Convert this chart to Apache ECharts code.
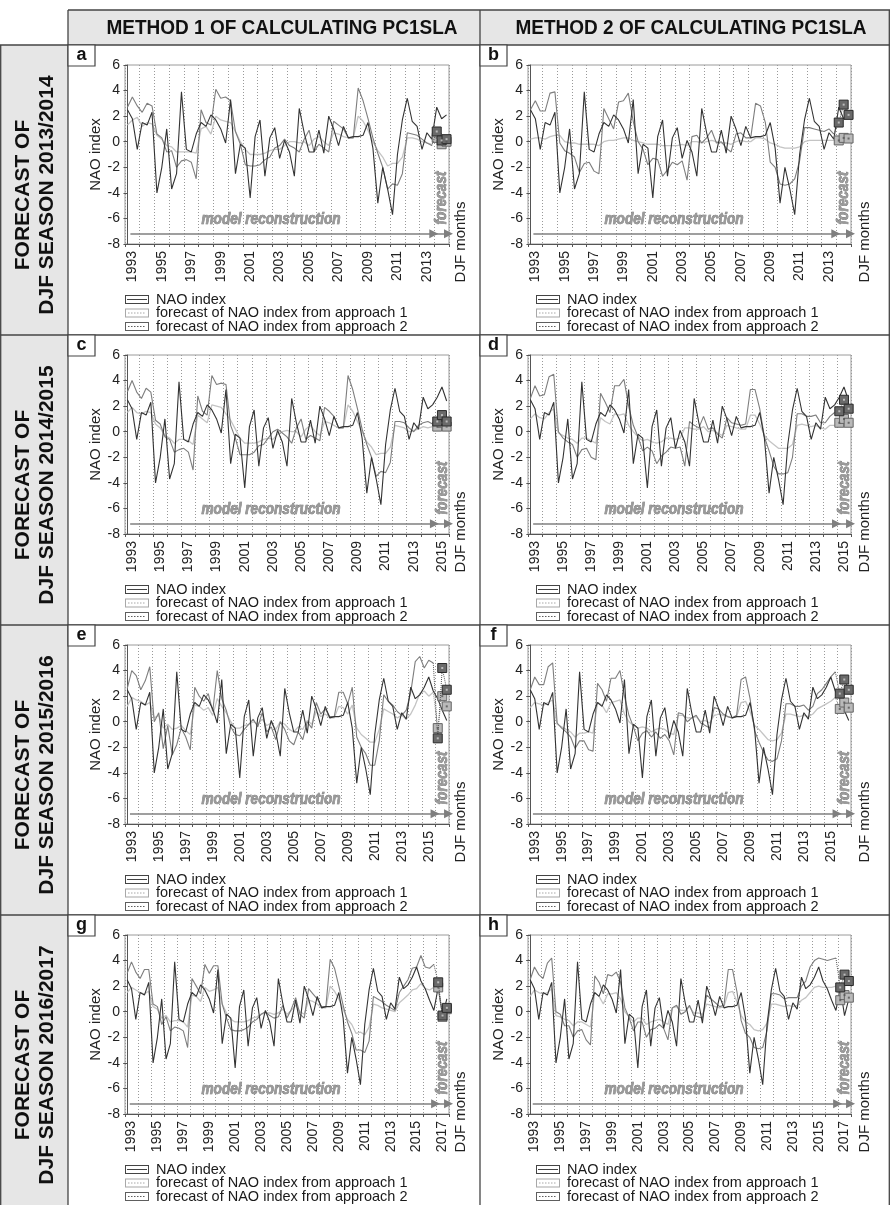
<!DOCTYPE html>
<html><head><meta charset="utf-8">
<script src="https://cdn.jsdelivr.net/npm/echarts@6/dist/echarts.min.js"></script>
<style>html,body{margin:0;padding:0;background:#fff}#c{width:890px;height:1205px}</style>
</head><body><div id="c"></div><script>
// ---------------- DATA ----------------
const FIRST_YEAR = 1993;
const HEADERS = ['METHOD 1 OF CALCULATING PC1SLA', 'METHOD 2 OF CALCULATING PC1SLA'];
const ROW_LABELS = ['DJF SEASON 2013/2014', 'DJF SEASON 2014/2015', 'DJF SEASON 2015/2016', 'DJF SEASON 2016/2017'];
const LEGEND_NAMES = ['NAO index', 'forecast of NAO index from approach 1', 'forecast of NAO index from approach 2'];

// observed monthly NAO index, DJF months, seasons 1993 ... 2017
const NAO_INDEX = [2.5,1.8,-0.6, 1.5,1.3,2.3, -4.0,-2.0,1.0, -3.7,-2.5,3.9, -0.6,-0.8,0.6, 1.5,1.2,2.1,
  1.7,1.0,-0.1, 3.3,-2.5,-0.2, -0.5,-4.4,0.4, 1.7,-2.7,0.3, 1.1,-1.3,0.1, -0.8,-2.7,2.6, 0.7,-0.8,-0.8,
  0.9,-0.9,2.0, 1.0,-0.3,1.2, 0.3,0.4,0.4, 0.5,1.5,-0.5, -4.8,-2.0,-3.7, -5.7,-1.0,1.7, 3.4,1.6,1.2,
  -0.6,0.7,0.2, 2.7,1.8,2.1, 2.7,3.5,2.4, 1.8,0.9,0.1, 1.9,-0.3,1.0];

// panel a
const A_AP1 = [1.3,1.7,1.9, 1.2,1.5,1.4, 0.5,0.2,-0.3, -0.4,-0.8,-0.8, -0.8,-0.8,-0.9, 1.0,1.2,0.6, 2.0,1.7,1.6,
  1.5,0.8,0.0, -0.6,-1.0,-1.0, -1.0,-0.9,-0.7, -0.6,-0.6,-0.3, 0.0,0.0,-0.1, 0.0,-0.3,0.2,
  0.4,0.0,-0.3, 0.7,0.6,0.4, 0.3,0.3,2.0, 1.6,0.9,0.0, -0.7,-1.2,-1.9, -1.7,-1.7,-1.2, 0.3,0.3,0.2, 0.0,-0.1,-0.2];
const A_AP2 = [2.7,3.5,2.8, 2.3,3.0,2.8, 0.6,0.3,-0.8, -0.7,-2.0,-1.5, -1.4,-1.6,-2.9, 2.5,1.5,1.3, 4.1,3.4,3.5,
  3.2,0.8,-0.2, -1.8,-1.9,-1.9, -1.8,-1.4,-1.2, -0.5,-0.3,0.2, -0.3,-0.5,-0.8, 0.2,0.9,-0.8,
  -0.2,-0.5,-0.8, 1.6,1.3,1.0, 0.3,0.3,4.2, 3.2,1.8,0.3, -0.9,-2.0,-3.7, -3.3,-3.4,-2.5, 0.7,0.6,0.5, 0.2,-0.1,-0.3];
const A_FC1 = [0.3, -0.2, 0.0];
const A_FC2 = [0.8, 0.1, 0.2];
// panel b
const B_AP1 = [0.2,0.3,0.3, 0.2,0.4,0.5, 0.5,0.0,-0.1, -0.1,-0.2,-0.2, -0.2,-0.2,-0.3, 0.0,0.1,0.1, 0.2,0.3,0.3,
  0.1,0.0,-0.1, -0.2,-0.2,-0.2, -0.3,-0.3,-0.3, -0.3,-0.2,-0.3, 0.0,0.0,-0.1, 0.0,0.1,0.0, -0.1,-0.1,-0.2,
  0.0,0.1,0.0, 0.0,0.3,0.3, 0.2,-0.1,-0.2, -0.4,-0.5,-0.5, -0.5,-0.4,0.0, 0.1,0.1,0.1, 0.1,0.1,0.1];
const B_AP2 = [2.5,3.2,2.4, 2.4,3.8,3.9, -0.1,-0.7,-0.9, -1.2,-2.4,-1.7, -1.6,-2.3,-2.5, 2.6,1.8,1.0, 3.1,3.2,3.8,
  1.6,0.0,-0.6, -1.8,-1.3,-1.4, -2.7,-2.2,-1.6, -1.8,-1.5,-3.0, 0.4,0.5,-0.1, 0.3,0.9,-0.1, 0.0,-0.5,-0.8,
  0.6,0.7,0.3, 0.3,3.0,2.8, 1.5,-1.6,-2.0, -3.3,-3.4,-3.3, -2.9,-1.5,1.1, 1.1,1.0,0.9, 0.8,1.0,0.6];
const B_FC1 = [0.1, 0.3, 0.25];
const B_FC2 = [1.5, 2.9, 2.1];
// panel c
const C_AP1 = [1.5,1.9,1.5, 1.4,1.6,1.5, 0.6,0.3,-0.3, -0.5,-0.9,-0.6, -0.6,-0.7,-1.0, 1.3,1.0,0.7, 2.1,2.0,1.9,
  1.4,0.9,0.2, -0.5,-0.9,-0.9, -0.9,-0.8,-0.6, -0.5,-0.6,-0.2, 0.0,0.1,0.0, 0.0,-0.4,0.2,
  0.5,0.0,-0.3, 0.8,0.7,0.5, 0.3,0.3,2.1, 1.6,0.8,0.0, -0.8,-1.2,-1.8, -1.7,-1.7,-1.2, 0.5,0.4,0.3, 0.0,0.1,0.2, 0.4,0.3,0.4];
const C_AP2 = [3.1,4.0,3.1, 2.6,3.4,3.1, 0.9,0.6,-0.4, -0.6,-1.6,-1.4, -1.3,-1.6,-3.0, 2.8,1.6,1.3, 4.4,3.7,3.8,
  3.7,0.5,-0.5, -1.8,-1.8,-1.8, -1.6,-1.1,-1.0, -0.5,0.0,0.2, -0.1,-0.4,-0.9, 0.3,1.0,-0.6,
  -0.3,-0.5,-0.7, 1.9,1.6,1.2, 0.3,0.3,4.4, 3.3,1.8,0.2, -1.0,-2.0,-3.5, -3.1,-3.2,-2.4, 0.8,0.8,0.7, 0.3,0.0,0.5, 0.7,0.8,0.6];
const C_FC1 = [0.4, 0.7, 0.4];
const C_FC2 = [0.8, 1.3, 0.8];
// panel d
const D_AP1 = [1.0,1.4,1.1, 1.0,1.5,1.8, -0.1,-0.3,-0.5, -0.6,-0.9,-0.5, -0.5,-0.7,-0.9, 1.1,0.8,0.6, 1.4,1.3,1.4,
  0.5,0.0,-0.4, -0.7,-0.6,-0.8, -0.9,-0.8,-0.5, -0.5,-0.6,-0.5, 0.3,0.3,0.2, 0.2,0.4,0.0, 0.1,-0.1,-0.3,
  0.5,0.4,0.3, 0.2,0.2,1.3, 1.3,0.6,-0.3, -0.7,-1.0,-1.3, -1.3,-1.3,-1.0, 0.5,0.6,0.5, 0.4,0.5,0.3, 0.2,0.5,0.5];
const D_AP2 = [2.6,3.6,2.8, 2.9,4.3,4.5, 0.0,-0.5,-0.8, -1.0,-2.0,-1.4, -1.3,-2.0,-2.2, 3.0,2.3,1.5, 3.6,3.6,4.1,
  2.0,0.5,-0.4, -1.5,-1.2,-1.5, -2.5,-1.9,-1.6, -1.2,-1.3,-1.2, -2.7,0.8,0.5, 0.3,1.2,0.2, 0.3,-0.2,-0.5,
  1.1,0.7,0.6, 0.5,0.6,3.3, 3.3,1.8,-0.4, -1.5,-2.7,-3.3, -3.3,-3.2,-2.0, 1.4,1.4,1.2, 1.2,1.3,0.7, 0.7,1.2,1.5];
const D_FC1 = [0.7, 1.0, 0.7];
const D_FC2 = [1.6, 2.5, 1.8];
// panel e
const E_AP1 = [1.2,1.9,1.7, 1.6,1.3,1.5, 0.3,0.5,-0.5, -0.2,-0.6,-0.5, -0.3,-0.7,-1.0, 1.3,1.2,0.9, 1.1,0.5,1.8,
  1.2,0.7,0.0, -0.5,-0.5,-0.3, -0.2,0.0,-0.2, 0.2,-0.3,-0.1, -0.6,0.0,-0.2, -0.6,-0.8,-0.4, -0.6,0.1,-0.2,
  0.8,0.4,0.6, 0.3,0.3,1.2, 1.1,0.6,1.3, -0.5,-1.0,-1.3, -1.6,-1.6,-0.6, 1.0,0.8,0.6, 0.3,0.5,0.2, 0.6,1.3,2.2, 2.4,2.0,2.3];
const E_AP2 = [2.6,4.0,3.6, 2.5,3.2,4.3, 0.0,0.7,-2.1, -0.3,-2.6,-1.8, -0.5,-1.2,-2.2, 2.7,2.0,1.6, 2.2,0.8,4.0,
  1.8,0.9,-0.4, -1.0,-1.1,-0.6, -0.2,0.2,-0.4, 0.7,-0.8,-0.4, -1.4,0.0,-0.6, -1.5,-1.8,-0.8, -1.4,0.0,-0.5,
  1.5,0.6,1.0, 0.4,0.4,2.3, 2.3,1.4,2.7, -1.2,-2.0,-2.5, -3.4,-3.4,-1.5, 2.1,1.6,1.3, 0.8,0.5,0.9, 2.3,4.7,5.1, 4.2,4.8,4.6];
const E_FC1 = [-0.5, 2.0, 1.2];
const E_FC2 = [-1.3, 4.2, 2.5];
// panel f
const F_AP1 = [1.1,1.5,1.4, 1.3,1.5,1.7, -0.2,-0.4,-0.6, -0.8,-1.2,-0.9, -0.9,-0.8,-0.9, 1.5,1.3,0.7, 1.5,1.6,1.7,
  0.6,0.0,-0.3, -0.5,-0.4,-0.5, -0.8,-0.6,-0.5, -0.6,-0.9,-1.0, 0.5,0.5,0.3, 0.3,0.4,0.0, 0.1,-0.1,0.5,
  0.6,0.5,0.4, 0.3,0.4,1.5, 1.6,0.8,-0.3, -0.6,-1.0,-1.4, -1.5,-1.4,-0.9, 0.6,0.6,0.5, 0.4,0.5,0.4, 0.6,1.0,1.2, 1.4,1.6,1.9];
const F_AP2 = [2.5,3.5,2.9, 2.9,4.3,4.6, -0.1,-0.5,-0.8, -1.2,-2.1,-1.5, -1.5,-2.2,-2.3, 3.0,2.5,1.6, 3.4,3.4,4.0,
  2.0,0.5,-0.4, -1.5,-0.9,-0.7, -1.2,-0.8,-1.3, -1.0,-1.5,-2.6, 0.7,0.6,0.0, 0.3,0.5,-0.1, -0.3,-0.5,1.1,
  1.0,0.6,0.4, 0.3,0.5,3.3, 3.5,1.8,-0.7, -1.6,-2.4,-3.0, -3.1,-2.9,-1.5, 1.4,1.4,1.2, 1.2,1.3,0.9, 1.2,2.2,2.5, 3.0,3.5,3.9];
const F_FC1 = [1.0, 1.5, 1.1];
const F_FC2 = [2.2, 3.3, 2.5];
// panel g
const G_AP1 = [1.5,1.9,1.7, 1.5,1.4,1.6, 0.4,0.2,-0.5, -0.3,-0.8,-0.7, -0.7,-0.8,-1.2, 1.3,1.2,0.8, 1.9,1.6,1.7,
  1.9,0.6,-0.1, -0.6,-0.8,-0.8, -0.8,-0.7,-0.5, -0.4,-0.2,-0.1, -0.1,-0.2,-0.1, 0.2,-0.2,0.1, 0.5,0.0,-0.2,
  0.9,0.8,0.6, 0.3,0.3,2.0, 1.6,1.0,0.2, -0.6,-1.0,-1.7, -1.6,-1.8,-1.2, 0.6,0.5,0.3, 0.2,0.1,0.0, 0.7,1.0,1.3,
  1.7,1.8,2.2, 1.8,1.7,1.9];
const G_AP2 = [3.0,3.9,3.1, 2.6,3.3,3.3, 0.6,0.4,-1.0, -0.4,-1.5,-1.2, -1.3,-1.5,-2.8, 2.6,2.0,1.4, 3.7,3.0,3.6,
  3.6,0.6,-0.5, -1.4,-1.5,-1.5, -1.4,-1.2,-0.8, -0.6,-0.2,0.0, -0.3,-0.5,-0.4, 0.5,-0.5,0.2, 1.1,-0.2,-0.5,
  1.8,1.4,1.0, 0.4,0.4,4.1, 3.4,2.0,0.5, -0.8,-1.7,-3.0, -3.0,-3.2,-2.3, 1.2,1.0,0.8, 0.5,0.3,0.1, 1.5,2.0,2.5,
  3.4,3.5,4.4, 3.5,3.4,3.7];
const G_FC1 = [1.9, -0.4, 0.2];
const G_FC2 = [2.3, -0.3, 0.3];
// panel h
const H_AP1 = [1.2,1.7,1.5, 1.4,1.5,1.8, -0.3,-0.4,-0.6, -0.7,-1.1,-0.8, -0.8,-1.0,-1.2, 1.5,1.2,0.6, 1.4,1.4,1.5,
  1.0,0.0,-0.4, -0.8,-0.5,-0.5, -1.0,-0.8,-0.7, -0.6,-0.8,-1.0, 0.3,0.4,0.1, 0.1,0.4,-0.1, -0.1,-0.2,0.6,
  0.5,0.4,0.3, 0.4,1.5,1.6, 0.8,-0.3,-0.8, -1.0,-1.4,-1.5, -1.4,-0.9,0.6, 0.6,0.5,0.4, 0.5,0.4,0.5, 0.9,1.1,1.5,
  1.9,2.0,1.9, 1.9,1.9,2.0];
const H_AP2 = [2.5,3.5,2.9, 2.6,3.8,4.2, 0.0,-0.2,-1.1, -1.1,-2.0,-1.5, -1.4,-2.2,-2.6, 2.8,2.3,1.4, 2.9,2.8,3.1,
  2.3,0.3,-0.5, -1.5,-0.8,-0.8, -2.0,-1.4,-1.3, -1.0,-1.3,-2.2, 0.3,0.5,-0.2, 0.0,0.5,-0.3, -0.4,-0.5,1.3,
  1.0,0.7,0.4, 0.5,3.3,3.3, 1.6,-0.7,-1.7, -2.0,-2.8,-2.9, -2.8,-1.5,1.4, 1.4,1.3,1.0, 1.1,1.1,1.1, 2.0,2.4,3.5,
  4.0,4.2,4.1, 4.0,4.1,4.2];
const H_FC1 = [0.9, 1.3, 1.1];
const H_FC2 = [1.9, 2.9, 2.4];

const PANELS = [
  {id:'a', row:0, col:0, n:66, ap1:A_AP1, ap2:A_AP2, fc1:A_FC1, fc2:A_FC2},
  {id:'b', row:0, col:1, n:66, ap1:B_AP1, ap2:B_AP2, fc1:B_FC1, fc2:B_FC2},
  {id:'c', row:1, col:0, n:69, ap1:C_AP1, ap2:C_AP2, fc1:C_FC1, fc2:C_FC2},
  {id:'d', row:1, col:1, n:69, ap1:D_AP1, ap2:D_AP2, fc1:D_FC1, fc2:D_FC2},
  {id:'e', row:2, col:0, n:72, ap1:E_AP1, ap2:E_AP2, fc1:E_FC1, fc2:E_FC2},
  {id:'f', row:2, col:1, n:72, ap1:F_AP1, ap2:F_AP2, fc1:F_FC1, fc2:F_FC2},
  {id:'g', row:3, col:0, n:75, ap1:G_AP1, ap2:G_AP2, fc1:G_FC1, fc2:G_FC2},
  {id:'h', row:3, col:1, n:75, ap1:H_AP1, ap2:H_AP2, fc1:H_FC1, fc2:H_FC2}
];

// ---------------- LAYOUT / STYLE ----------------
const FONT = "'Liberation Sans', Arial, Helvetica, sans-serif";
const ROW_TOPS = [45, 335, 625, 915];
const COLS = [
  {cellX:68, left:125, width:324, legendLeft:125, nameGap:21, djfGap:12},
  {cellX:480, left:528, width:323, legendLeft:536, nameGap:14, djfGap:14}
];
const PLOT_DY = 20, PLOT_H = 179;
const BORDER = '#444', BG = '#e6e6e6';
const COL_NAO = '#333333', COL_AP1 = '#c4c4c4', COL_AP2 = '#7e7e7e';

function frame(dotted) {
  let p = 'path://M0,0H24V1H0Z M0,8H24V9H0Z M0,0H1V9H0Z M23,0H24V9H23Z';
  if (dotted) { for (let x = 3; x < 21; x += 3) p += ` M${x},4H${x+1.5}V5H${x}Z`; }
  else p += ' M2,4H22V5H2Z';
  return p;
}

const chart = echarts.init(document.getElementById('c'), null, {renderer:'canvas'});
const grid = [], xAxis = [], yAxis = [], series = [], legend = [];

PANELS.forEach((p, k) => {
  const col = COLS[p.col], top = ROW_TOPS[p.row] + PLOT_DY;
  grid.push({left:col.left, top:top, width:col.width, height:PLOT_H, show:true, borderColor:'#9a9a9a', borderWidth:1, backgroundColor:'transparent'});
  const labelVals = [];
  for (let v = 1; v <= p.n - 1; v += 6) labelVals.push(v);
  xAxis.push({type:'value', gridIndex:k, min:-0.5, max:p.n - 0.5, interval:3,
    axisLine:{show:true, onZero:false, lineStyle:{color:'#555', width:1}},
    axisTick:{show:true, length:3, lineStyle:{color:'#555'}},
    splitLine:{show:true, lineStyle:{color:'#999', width:1, type:[1,2]}},
    axisLabel:{customValues:labelVals, rotate:90, margin:7, fontSize:14, color:'#222', fontFamily:FONT,
      formatter: v => String(FIRST_YEAR + Math.round((v - 1) / 3))}
  });
  yAxis.push({type:'value', gridIndex:k, min:-8, max:6, interval:2,
    name:'NAO index', nameLocation:'middle', nameGap:col.nameGap + 1,
    nameTextStyle:{fontSize:15, color:'#222', fontFamily:FONT},
    axisLine:{show:true, lineStyle:{color:'#555'}},
    axisTick:{show:true, length:4, lineStyle:{color:'#555'}},
    axisLabel:{margin:5, fontSize:14, color:'#222', fontFamily:FONT},
    splitLine:{show:false}
  });
  const nao = NAO_INDEX.slice(0, p.n).map((v, i) => [i, v]);
  const last = p.ap1.length - 1;
  const ap1 = p.ap1.map((v, i) => [i, v]);
  const ap2 = p.ap2.map((v, i) => [i, v]);
  const fc1 = [{value:[last, p.ap1[last]], symbolSize:0}].concat(p.fc1.map((v, j) => [last + 1 + j, v]));
  const fc2 = [{value:[last, p.ap2[last]], symbolSize:0}].concat(p.fc2.map((v, j) => [last + 1 + j, v]));
  const base = {type:'line', xAxisIndex:k, yAxisIndex:k, animation:false, silent:true};
  series.push(Object.assign({}, base, {name:'approach 1 reconstruction', data:ap1, symbol:'none', z:2,
    lineStyle:{color:COL_AP1, width:1.3}}));
  series.push(Object.assign({}, base, {name:'approach 2 reconstruction', data:ap2, symbol:'none', z:2,
    lineStyle:{color:COL_AP2, width:1.1}}));
  series.push(Object.assign({}, base, {name:LEGEND_NAMES[0], data:nao, symbol:'none', z:3,
    lineStyle:{color:COL_NAO, width:1.1}}));
  // arrows "model reconstruction" -> and "forecast" ->
  series.push(Object.assign({}, base, {name:'arrows', data:[], symbol:'none', z:9,
    markLine:{silent:true, animation:false, symbol:['none','triangle'], symbolSize:9, label:{show:false}, z:9,
      lineStyle:{color:'#7f7f7f', width:1.5, type:'solid', opacity:1},
      emphasis:{disabled:true},
      data:[[{coord:[0.6,-7.2]},{coord:[p.n - 3.6,-7.2]}], [{coord:[p.n - 3.3,-7.2]},{coord:[p.n - 0.6,-7.2]}]]}}));
  series.push(Object.assign({}, base, {name:LEGEND_NAMES[1], data:fc1, symbol:'rect', symbolSize:9, z:5,
    lineStyle:{color:'#9a9a9a', width:1, type:'dotted'},
    itemStyle:{color:'#b9b9b9', borderColor:'#666', borderWidth:1}}));
  series.push(Object.assign({}, base, {name:LEGEND_NAMES[2], data:fc2, symbol:'rect', symbolSize:9, z:6,
    lineStyle:{color:'#555', width:1, type:'dotted'},
    itemStyle:{color:'#6a6a6a', borderColor:'#2b2b2b', borderWidth:1}}));
  series.push({type:'scatter', xAxisIndex:k, yAxisIndex:k, animation:false, silent:true, z:7, symbol:'rect', symbolSize:2,
    itemStyle:{color:'#555'}, data:p.fc1.map((v, j) => [last + 1 + j, v])});
  series.push({type:'scatter', xAxisIndex:k, yAxisIndex:k, animation:false, silent:true, z:8, symbol:'rect', symbolSize:2,
    itemStyle:{color:'#d0d0d0'}, data:p.fc2.map((v, j) => [last + 1 + j, v])});
  legend.push({orient:'vertical', left:col.legendLeft, top:ROW_TOPS[p.row] + 247, height:60, padding:0, itemGap:-1.5,
    itemWidth:24, itemHeight:9, selectedMode:false,
    textStyle:{fontSize:14.5, lineHeight:13.5, color:'#1a1a1a', fontFamily:FONT, padding:[0,0,0,2]},
    data:[
      {name:LEGEND_NAMES[0], icon:frame(false), itemStyle:{color:'#444', borderWidth:0}},
      {name:LEGEND_NAMES[1], icon:frame(true), itemStyle:{color:'#a8a8a8', borderWidth:0}},
      {name:LEGEND_NAMES[2], icon:frame(true), itemStyle:{color:'#5e5e5e', borderWidth:0}}
    ]});
});

chart.setOption({animation:false, textStyle:{fontFamily:FONT}, grid, xAxis, yAxis, series, legend});

// ---------------- TABLE + ANNOTATIONS ----------------
function txt(x, y, text, font, opts) {
  opts = opts || {};
  return {type:'text', x:x, y:y, rotation:opts.rot || 0, scaleX:opts.sx || 1, z:opts.z || 50, silent:true,
    style:Object.assign({text:text, font:font, fill:opts.fill || '#111', textAlign:'center', textVerticalAlign:'middle',
      align:'center', verticalAlign:'middle', lineHeight:opts.lh}, opts.style || {})};
}
function line(x1, y1, x2, y2) {
  return {type:'line', shape:{x1, y1, x2, y2}, z:40, silent:true, style:{stroke:BORDER, lineWidth:1.3}};
}
const g = [];
g.push({type:'rect', shape:{x:68, y:10, width:822, height:35}, z:1, silent:true, style:{fill:BG}});
g.push({type:'rect', shape:{x:0, y:45, width:68, height:1160}, z:1, silent:true, style:{fill:BG}});
g.push(line(68, 10, 890, 10));
ROW_TOPS.forEach(y => g.push(line(0, y, 890, y)));
g.push(line(0.7, 45, 0.7, 1205));
g.push(line(68, 10, 68, 1205));
g.push(line(480, 10, 480, 1205));
g.push(line(889.3, 10, 889.3, 1205));
g.push(txt(282, 28, HEADERS[0], 'bold 20px ' + FONT, {sx:0.95}));
g.push(txt(691, 28, HEADERS[1], 'bold 20px ' + FONT, {sx:0.95}));
ROW_LABELS.forEach((lab, r) => {
  g.push(txt(35, ROW_TOPS[r] + 150, 'FORECAST OF\n' + lab, 'bold 21px ' + FONT, {rot:Math.PI/2, lh:24}));
});
PANELS.forEach((p, k) => {
  const col = COLS[p.col], rt = ROW_TOPS[p.row];
  g.push({type:'rect', shape:{x:col.cellX, y:rt, width:27, height:21}, z:45, silent:true,
    style:{fill:'#fff', stroke:BORDER, lineWidth:1.2}});
  g.push(txt(col.cellX + 13.5, rt + 10.5, p.id, 'bold 18px ' + FONT));
  const gb = rt + PLOT_DY + PLOT_H;
  g.push(txt(col.left + col.width + col.djfGap, gb - 2, 'DJF months', '15px ' + FONT, {rot:Math.PI/2, fill:'#222'}));
  const mr = chart.convertToPixel({gridIndex:k}, [0, -6.1]);
  g.push(txt(col.left + 146, mr[1], 'model reconstruction', 'italic bold 17px ' + FONT,
    {sx:0.8, fill:'#9a9a9a', style:{stroke:'#666', lineWidth:0.7}}));
  const fp = chart.convertToPixel({gridIndex:k}, [p.n - 2, -4.4]);
  g.push(txt(fp[0], fp[1], 'forecast', 'italic bold 17px ' + FONT,
    {rot:Math.PI/2, sx:0.8, fill:'#9a9a9a', style:{stroke:'#666', lineWidth:0.7}}));
});
chart.setOption({graphic:{elements:g}});
</script></body></html>
